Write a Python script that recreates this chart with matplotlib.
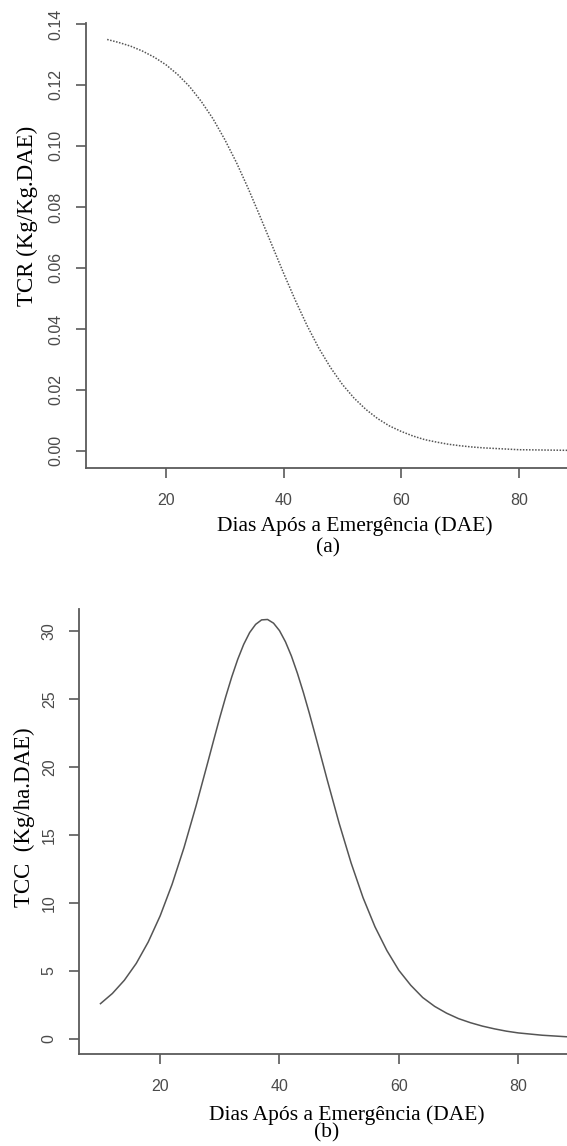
import matplotlib
matplotlib.use("Agg")
import matplotlib.pyplot as plt

# values
dae_tcr = [10, 12, 14, 16, 18, 20, 22, 24, 26, 28, 30, 32, 34, 36, 38, 40, 42, 44, 46, 48,
           50, 52, 54, 56, 58, 60, 62, 64, 66, 68, 70, 72, 74, 76, 78, 80, 84, 88, 92, 96, 100]

tcr = [0.1349, 0.1339, 0.1327, 0.1311, 0.1291, 0.1266, 0.1234, 0.1195, 0.1146, 0.1089,
       0.1021, 0.0945, 0.0860, 0.0769, 0.0676, 0.0583, 0.0494, 0.0411, 0.0337, 0.0273,
       0.0218, 0.0173, 0.0136, 0.0106, 0.0082, 0.0064, 0.0049, 0.0037, 0.0029, 0.0022,
       0.0017, 0.0013, 0.0010, 0.0008, 0.0006, 0.0004, 0.0003, 0.0002, 0.0001, 0.0001, 0.0000]

dae_tcc = [10, 12, 14, 16, 18, 20, 22, 24, 26, 28, 29, 30, 31, 32, 33, 34, 35, 36, 37, 38,
           39, 40, 41, 42, 43, 44, 45, 46, 47, 48, 50, 52, 54, 56, 58, 60, 62, 64, 66, 68,
           70, 72, 74, 76, 78, 80, 84, 88, 92, 96, 100]

tcc = [2.60, 3.35, 4.32, 5.56, 7.13, 9.05, 11.37, 14.07, 17.11, 20.36, 22.01, 23.63, 25.17,
       26.61, 27.90, 29.00, 29.87, 30.47, 30.80, 30.83, 30.56, 30.01, 29.19, 28.14, 26.88,
       25.47, 23.94, 22.33, 20.69, 19.04, 15.85, 12.94, 10.39, 8.25, 6.50, 5.05, 3.95, 3.05,
       2.40, 1.90, 1.50, 1.20, 0.95, 0.75, 0.58, 0.45, 0.28, 0.17, 0.10, 0.06, 0.04]

x_ticks = [20, 40, 60, 80]
tcr_ticks = [0.00, 0.02, 0.04, 0.06, 0.08, 0.10, 0.12, 0.14]
tcc_ticks = [0, 5, 10, 15, 20, 25, 30]

W, H = 567, 1146
fig = plt.figure(figsize=(W / 100, H / 100), dpi=100)

axis_col = "#5a5a5a"
tick_font = "Liberation Sans"
lab_font = "Liberation Serif"


def style(ax):
    for s in ["top", "right"]:
        ax.spines[s].set_visible(False)
    for s in ["left", "bottom"]:
        ax.spines[s].set_color(axis_col)
        ax.spines[s].set_linewidth(1.3)
    ax.tick_params(axis="both", direction="out", length=7, width=1.2,
                   color=axis_col, labelcolor="#4a4a4a", labelsize=11.5)
    ax.tick_params(axis="x", pad=11)
    ax.tick_params(axis="y", pad=9)
    for lab in ax.get_xticklabels() + ax.get_yticklabels():
        lab.set_fontfamily(tick_font)
    for lab in ax.get_yticklabels():
        lab.set_rotation(90)
        lab.set_va("center")


# (a) TCR
ax1 = fig.add_axes([86 / W, (H - 468) / H, 571.5 / W, 445 / H])
ax1.plot(dae_tcr, tcr, color="#555555", lw=1.1, linestyle=(0, (1, 1)))
ax1.set_xlim(6.4, 103.6)
ax1.set_ylim(-0.0056, 0.1403)
ax1.set_xticks(x_ticks)
ax1.set_yticks(tcr_ticks)
ax1.set_yticklabels([f"{v:.2f}" for v in tcr_ticks])
style(ax1)

# (b) TCC
ax2 = fig.add_axes([79 / W, (H - 1054) / H, 580 / W, 445 / H])
ax2.plot(dae_tcc, tcc, color="#555555", lw=1.1)
ax2.set_xlim(6.4, 103.6)
ax2.set_ylim(-1.1, 31.6)
ax2.set_xticks(x_ticks)
ax2.set_yticks(tcc_ticks)
style(ax2)

# labels placed where they sit in the reference
fig.text(27 / W, 1 - 216 / H, "TCR (Kg/Kg.DAE)", rotation=90, ha="center", va="center",
         family=lab_font, fontsize=16.5)
fig.text(355 / W, 1 - 526 / H, "Dias Após a Emergência (DAE)", ha="center", va="center",
         family=lab_font, fontsize=15.5)
fig.text(328 / W, 1 - 548 / H, "(a)", ha="center", va="center",
         family=lab_font, fontsize=15.5)

fig.text(24 / W, 1 - 817 / H, "TCC  (Kg/ha.DAE)", rotation=90, ha="center", va="center",
         family=lab_font, fontsize=16.5)
fig.text(347 / W, 1 - 1115 / H, "Dias Após a Emergência (DAE)", ha="center", va="center",
         family=lab_font, fontsize=15.5)
fig.text(327 / W, 1 - 1133 / H, "(b)", ha="center", va="center",
         family=lab_font, fontsize=15.5)

fig.savefig("out.png", dpi=100)
